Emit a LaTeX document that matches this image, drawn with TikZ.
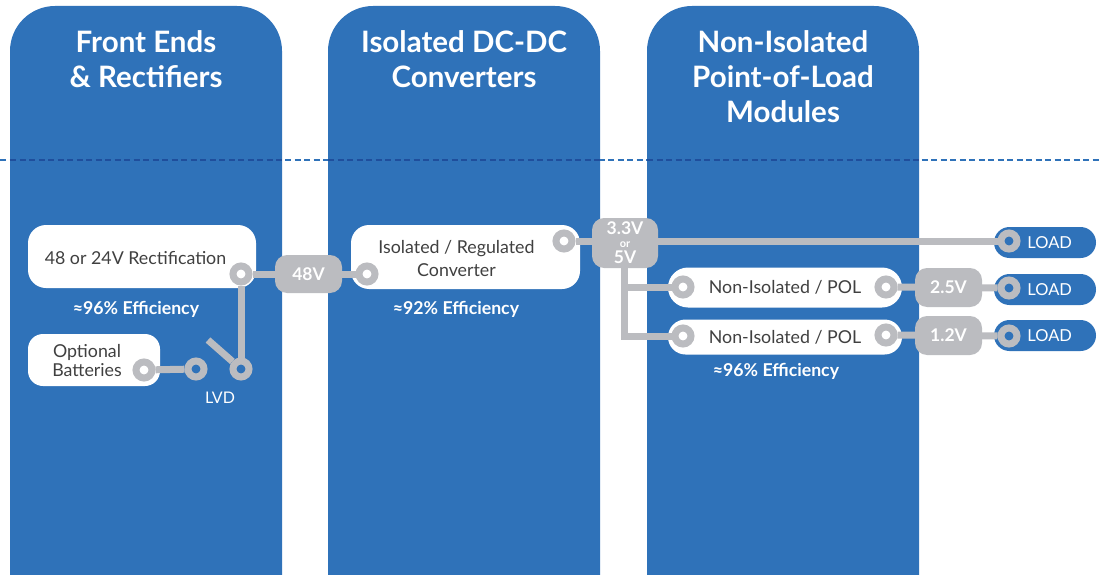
\documentclass[tikz,border=0pt]{standalone}
\usepackage{fontspec}
\setmainfont{Lato}
\definecolor{geblue}{HTML}{2F72B9}
\definecolor{wiregray}{HTML}{BBBCC0}
\definecolor{darkdash}{HTML}{1F4E9C}
\definecolor{boxtext}{HTML}{404040}
\begin{document}
\begin{tikzpicture} [
  x=1pt,
  y=-1pt,
  panel/.style= {fill=geblue},
  title/.style= {text=white,font=\fontsize{29.5}{35}\selectfont\bfseries,align=center,inner sep=0},
  box/.style= {fill=white,rounded corners=#1,inner sep=0,text=boxtext,font=\fontsize{17.8}{20}\selectfont,align=center},
  boxlabel/.style= {text=boxtext,font=\fontsize{17.8}{#1}\selectfont,align=center,inner sep=0},
  tag/.style= {fill=wiregray,rounded corners=12,inner sep=0,text=white,font=\fontsize{17.5}{20}\selectfont\bfseries,align=center},
  load/.style= {fill=geblue,rounded corners=15.5,minimum width=102,minimum height=31,inner sep=0,text=white,font=\fontsize{16.5}{20}\selectfont,text width=54,align=right},
  eff/.style= {text=white,font=\fontsize{17.7}{20}\selectfont\bfseries,inner sep=0},
  hole/.style= {circle,draw=wiregray,line width=7,fill=white,minimum size=16,inner sep=0},
  blue hole/.style= {hole,fill=geblue},
  wire/.style= {draw=wiregray,line width=7},
  dashline/.style= {line width=1.5,dash pattern=on 6pt off 3.5pt},
]
\useasboundingbox (0,0) rectangle (1102,575);

% columns
\fill[panel,rounded corners=45] (10,575) -- (10,6) -- (282,6) [sharp corners] -- (282,575) -- cycle;
\fill[panel,rounded corners=45] (328,575) -- (328,6) -- (600,6) [sharp corners] -- (600,575) -- cycle;
\fill[panel,rounded corners=45] (647,575) -- (647,6) -- (919,6) [sharp corners] -- (919,575) -- cycle;

\node (T1) [title] at (146,59) {Front Ends\\\& Rectifiers};
\node (T2) [title] at (464,59) {Isolated DC-DC\\Converters};
\node (T3) [title] at (783,76.5) {Non-Isolated\\Point-of-Load\\Modules};

\draw[geblue,dashline] (0,160) -- (1102,160);
\draw[darkdash,dashline] (10,160) -- (282,160);
\draw[darkdash,dashline] (328,160) -- (600,160);
\draw[darkdash,dashline] (647,160) -- (919,160);

% boxes
\node (rect) [box=18,minimum width=228,minimum height=63] at (142,256.5) {};
\node (rectT) [boxlabel=20] at (135.5,258.5) {48 or 24V Rectification};
\node (batt) [box=15,minimum width=132,minimum height=52] at (94,360) {};
\node (battT) [boxlabel=19] at (87,360.5) {Optional\\Batteries};
\node (conv) [box=18,minimum width=229,minimum height=64] at (465.5,257) {};
\node (convT) [boxlabel=23] at (456.5,258.5) {Isolated / Regulated\\Converter};
\node (pol1) [box=20,minimum width=234,minimum height=40] at (785,287.5) {Non-Isolated / POL};
\node (pol2) [box=17.5,minimum width=234,minimum height=35] at (785,337) {Non-Isolated / POL};

% efficiency
\node (E1) [eff] at (136,309.5) {≈96\% Efficiency};
\node (E2) [eff] at (456,309.5) {≈92\% Efficiency};
\node (E3) [eff] at (776,371) {≈96\% Efficiency};
\node (lvd) [text=white,font=\fontsize{16}{18}\selectfont,inner sep=0] at (220,398) {LVD};

% voltage tags
\node (v48) [tag,minimum width=67,minimum height=38] at (308.5,274) {48V};
\node (v33) [tag,minimum width=66,minimum height=50] at (625,243) {3.3V\\[-7pt]{\fontsize{11}{9}\selectfont or}\\[-4pt]5V};
\node (v25) [tag,minimum width=67,minimum height=39] at (948.5,287.5) {2.5V};
\node (v12) [tag,minimum width=67,minimum height=39] at (948.5,335.5) {1.2V};

% loads
\node (L1) [load] at (1045,242.5) {LOAD};
\node (L2) [load] at (1045,289.5) {LOAD};
\node (L3) [load] at (1045,335.5) {LOAD};

% ports
\node (a) [hole] at (241,274) {};
\node (b) [blue hole] at (241,369) {};
\node (c) [blue hole] at (196,369) {};
\node (d) [hole] at (144,370) {};
\node (e) [hole] at (367,274) {};
\node (f) [hole] at (564,241) {};
\node (g) [hole] at (683,287) {};
\node (h) [hole] at (683,336) {};
\node (i) [hole] at (886,287) {};
\node (j) [hole] at (886,335) {};
\node (k) [blue hole] at (1009,241) {};
\node (l) [blue hole] at (1009,288) {};
\node (m) [blue hole] at (1009,336) {};

\coordinate (arm) at (208,340);
\coordinate (tap) at (624.5,268);

% wires
\draw[wire] (a) -- (b);
\draw[wire] (a) -- (v48);
\draw[wire] (v48) -- (e);
\draw[wire] (d) -- (c);
\draw[wire] (arm) -- (b);
\draw[wire] (f) -- (v33.west |- f);
\draw[wire] (v33.east |- k) -- (k);
\draw[wire] (tap) |- (g);
\draw[wire] (tap) |- (h);
\draw[wire] (i) -- (v25);
\draw[wire] (v25) -- (l);
\draw[wire] (j) -- (v12);
\draw[wire] (v12) -- (m);
\end{tikzpicture}
\end{document}
